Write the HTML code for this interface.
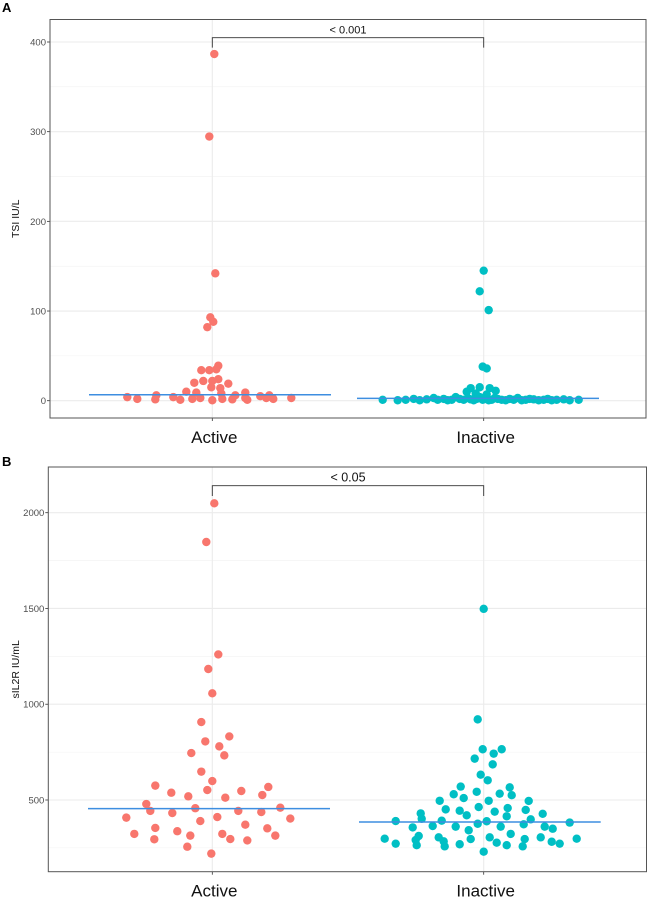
<!DOCTYPE html>
<html><head><meta charset="utf-8"><style>
html,body{margin:0;padding:0;background:#fff;}
svg{display:block;font-family:"Liberation Sans",sans-serif;}
</style></head><body>
<svg id="chart" width="649" height="907" viewBox="0 0 649 907"></svg>
<script>
const categories = ["Active","Inactive"];
// Panel A (TSI)
const aActiveVals = [386.6,294.6,142,93,88,82,39,34,34,35,20,22,22,24,19,15,14,10,9,8,9,6,6,6,4,2,1.5,4,1,2,3,0.5,2,1.5,1,5,3,2,3,3];
const aActiveJit  = [2,-3,3,-2,1,-5,6,-11,-3,4,-18,-9,0,6,16,-1,8,-26,-16,9,33,-56,23,57,-85,-75,-57,-39,-32,-20,-12,0,10,20,35,48,54,61,79,33];
const aInactiveVals = [145,122,101,38,36,14,15,14,11,10,8,7,
  1,0.5,1,2,0.5,1.5,3,1,2,0.5,1,4,2,1,3,1.5,0.5,2,4,1,3,2,0.5,1,3,2,1,0.5,2,1,3,0.5,1,2,1.5,0.5,1,2,0.5,1,1.5,0.5,1];
const aInactiveJit  = [0,-4,5,-1,3,-13,-4,6,12,-17,-8,3,
  -101,-86,-78,-70,-64,-57,-50,-46,-40,-36,-32,-28,-24,-20,-16,-13,-10,-7,-4,-1,0,2,5,8,11,14,18,22,26,30,34,38,42,46,50,55,60,64,68,73,80,86,95];
const aMedians = [6.7,2.6];
const aTicks = [0,100,200,300,400];
const aMinor = [50,150,250,350];
// Panel B (sIL2R)
const bActiveVals = [2049,1847,1260,1184,1057,907,806,832,780,745,733,648,599,575,568,538,552,547,519,526,512,479,443,432,457,443,437,460,408,390,411,403,371,354,352,337,323,314,323,314,295,296,289,256,220];
const bActiveJit  = [2,-6,6,-4,0,-11,-7,17,7,-21,12,-11,0,-57,56,-41,-5,29,-24,50,13,-66,-62,-40,-17,26,49,68,-86,-12,5,78,33,-57,55,-35,-78,-22,10,63,-58,18,35,-25,-1];
const bInactiveVals = [1498,921,765,765,742,716,686,632,603,570,566,530,543,533,525,510,496,496,495,451,463,458,444,430,439,448,428,420,415,402,399,390,392,389,376,373,382,357,364,361,361,361,350,342,323,298,312,305,305,305,291,296,296,298,284,277,282,272,269,264,272,264,258,258,230];
const bInactiveJit  = [0,-6,-1,18,10,-9,9,-3,4,-23,26,-30,-7,16,28,-20,-44,5,45,-38,-5,24,-24,-63,11,42,59,-17,23,-62,47,-88,-42,3,-6,40,86,-71,-51,-28,17,61,69,-15,27,-99,-65,-45,6,57,-68,-13,41,93,-40,13,68,-88,-24,23,76,-67,-39,39,0];
const bMedians = [455,385];
const bTicks = [500,1000,1500,2000];
const bMinor = [250,750,1250,1750];

const NS="http://www.w3.org/2000/svg";
const svg=document.getElementById('chart');
function mk(tag,attrs,parent){const e=document.createElementNS(NS,tag);for(const k in attrs)e.setAttribute(k,attrs[k]);(parent||svg).appendChild(e);return e;}

function panel(cfg){
  const g=mk('g',{});
  
  
  const L=cfg.left,R=cfg.right,T=cfg.top,B=cfg.bottom;
  const y=v=>cfg.y0px+(v-cfg.y0)*(cfg.y1px-cfg.y0px)/(cfg.y1-cfg.y0);
  const xc=[212.3,483.7];
  const x=(i,j)=>xc[i]+j;
  // grid
  cfg.minor.forEach(v=>{const l=mk('line',{x1:L,x2:R,y1:y(v),y2:y(v),stroke:'#f2f2f2','stroke-width':0.6},g);
    });
  cfg.ticks.forEach(v=>{const l=mk('line',{x1:L,x2:R,y1:y(v),y2:y(v),stroke:'#ebebeb','stroke-width':1.1},g);
    });
  xc.forEach(px=>{const l=mk('line',{x1:px,x2:px,y1:T,y2:B,stroke:'#ebebeb','stroke-width':1.1},g);
    });
  // ticks & labels
  cfg.ticks.forEach(v=>{
    const tk=mk('line',{x1:L-3,x2:L,y1:y(v),y2:y(v),stroke:'#333','stroke-width':0.8},g);
    
    const t=mk('text',{x:L-4,y:y(v)+3.5,'text-anchor':'end','font-size':9.5,fill:'#4d4d4d'},g);
    t.textContent=v;
    
  });
  categories.forEach((c,i)=>{
    const tk=mk('line',{x1:xc[i],x2:xc[i],y1:B,y2:B+3,stroke:'#333','stroke-width':0.8},g);
    
    const t=mk('text',{x:xc[i]+2,y:B+25,'text-anchor':'middle','font-size':17,fill:'#111'},g);
    t.textContent=c;
    
  });
  const yl=mk('text',{x:0,y:0,'text-anchor':'middle','font-size':10.5,fill:'#111',transform:`translate(${cfg.ylabX},${(T+B)/2}) rotate(-90)`},g);
  yl.textContent=cfg.ylab;
  
  // points
  const series=[[cfg.actV,cfg.actJ,'#F8766D','active'],[cfg.inV,cfg.inJ,'#00BFC4','inactive']];
  series.forEach((s,i)=>{
    s[0].forEach((v,k)=>{
      const c=mk('circle',{cx:x(i,s[1][k]),cy:y(v),r:4.2,fill:s[2]},g);
      
      
    });
  });
  // medians
  cfg.med.forEach((m,i)=>{
    const l=mk('line',{x1:cfg.medX[i][0],x2:cfg.medX[i][1],y1:y(m),y2:y(m),stroke:'#3d8ee0','stroke-width':1.5},g);
    
    
  });
  // border
  const br=mk('rect',{x:L,y:T,width:R-L,height:B-T,fill:'none',stroke:'#555','stroke-width':1},g);
  
  // bracket
  const bp=mk('path',{d:`M${xc[0]},${cfg.brLow} V${cfg.brY} H${xc[1]} V${cfg.brLow}`,fill:'none',stroke:'#333','stroke-width':0.9},g);
  
  const st=mk('text',{x:(xc[0]+xc[1])/2,y:cfg.brY-4,'text-anchor':'middle','font-size':cfg.pFont,fill:'#111'},g);
  st.textContent=cfg.p;
  
  const pl=mk('text',{x:2,y:cfg.letterY,'font-size':13,'font-weight':'bold',fill:'#000'},g);
  pl.textContent=cfg.letter;
  
}

panel({name:'panel-a-tsi',left:50,right:646,top:19.5,bottom:418,y0:0,y0px:400.7,y1:400,y1px:42,
  ticks:aTicks,minor:aMinor,ylab:'TSI IU/L',ylabX:19,actV:aActiveVals,actJ:aActiveJit,inV:aInactiveVals,inJ:aInactiveJit,
  med:aMedians,medX:[[89,331],[357,599]],brY:37.7,brLow:47.6,p:'< 0.001',pFont:11,letter:'A',letterY:12});
panel({name:'panel-b-sil2r',left:48.3,right:646.5,top:467,bottom:871.7,y0:500,y0px:800,y1:2000,y1px:512.7,
  ticks:bTicks,minor:bMinor,ylab:'sIL2R IU/mL',ylabX:19,actV:bActiveVals,actJ:bActiveJit,inV:bInactiveVals,inJ:bInactiveJit,
  med:bMedians,medX:[[88,330],[359,600.7]],brY:485.7,brLow:496,p:'< 0.05',pFont:12.5,letter:'B',letterY:466});
</script>
</body></html>
